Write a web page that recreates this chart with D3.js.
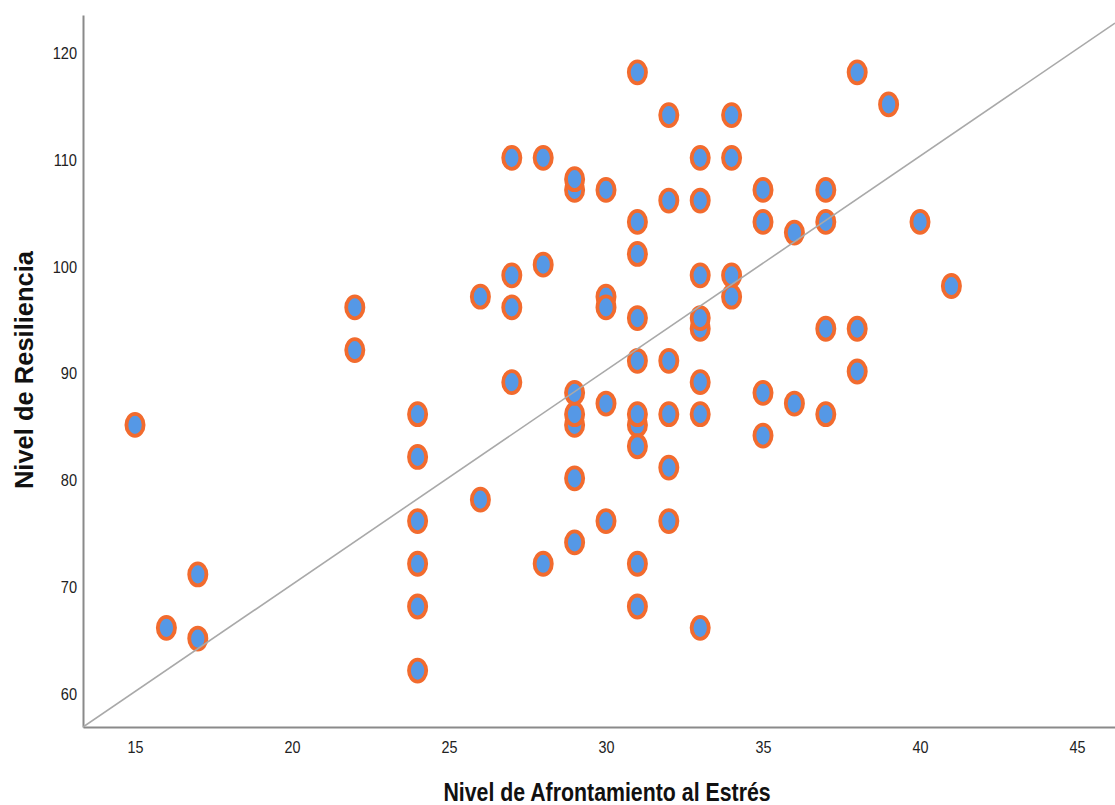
<!DOCTYPE html>
<html lang="es">
<head>
<meta charset="utf-8">
<title>Afrontamiento al estrés y resiliencia</title>
<script src="https://cdn.jsdelivr.net/npm/d3@7/dist/d3.min.js"></script>
<style>
  html, body { margin: 0; padding: 0; background: #ffffff; }
  svg { display: block; font-family: "Liberation Sans", Arial, sans-serif; }
</style>
</head>
<body>
<svg id="chart" width="1115" height="805"></svg>
<script>
// Puntuaciones por participante
const afrontamiento = [
  15, 16, 17, 17, 22, 22,
  24, 24, 24, 24, 24, 24,
  26, 26, 27, 27, 27, 27,
  28, 28, 28,
  29, 29, 29, 29, 29, 29, 29,
  30, 30, 30, 30, 30,
  31, 31, 31, 31, 31, 31, 31, 31, 31, 31,
  32, 32, 32, 32, 32, 32,
  33, 33, 33, 33, 33, 33, 33, 33,
  34, 34, 34, 34,
  35, 35, 35, 35,
  36, 36,
  37, 37, 37, 37,
  38, 38, 38,
  39, 40, 41
];
const resiliencia = [
  85, 66, 71, 65, 96, 92,
  86, 82, 76, 72, 68, 62,
  97, 78, 110, 99, 96, 89,
  110, 100, 72,
  107, 108, 85, 86, 88, 80, 74,
  107, 97, 96, 87, 76,
  118, 104, 101, 95, 91, 85, 86, 83, 72, 68,
  114, 106, 91, 86, 81, 76,
  110, 106, 99, 94, 95, 89, 86, 66,
  114, 110, 99, 97,
  107, 104, 88, 84,
  103, 87,
  107, 104, 94, 86,
  118, 94, 90,
  115, 104, 98
];

// Ejes
const xTicks = [15, 20, 25, 30, 35, 40, 45];
const yTicks = [60, 70, 80, 90, 100, 110, 120];
const xDomain = [13.344, 46.21];
const yDomain = [56.72, 123.37];

// Recta de ajuste
const fitIntercept = 29.96;
const fitSlope = 2.005;

const xTitle = "Nivel de Afrontamiento al Estrés";
const yTitle = "Nivel de Resiliencia";

const points = afrontamiento.map((a, i) => ({ x: a, y: resiliencia[i] }));

const svg = d3.select("#chart");
const plotLeft = 83, plotRight = 1115, plotTop = 15, plotBottom = 727;

const x = d3.scaleLinear().domain(xDomain).range([plotLeft, plotRight]);
const y = d3.scaleLinear().domain(yDomain).range([plotBottom, plotTop]);

const axisColor = "#8a8a8a";
const textColor = "#222222";

// Eje X
const gx = svg.append("g")
  .attr("transform", `translate(0,${plotBottom})`)
  .call(d3.axisBottom(x).tickValues(xTicks).tickSize(0).tickSizeOuter(0).tickPadding(14)
    .tickFormat(d3.format("d")));
gx.select(".domain").attr("stroke", axisColor).attr("stroke-width", 2);
gx.selectAll(".tick text")
  .attr("fill", textColor)
  .attr("font-size", 16.5)
  .attr("transform", "scale(0.87,1)");

// Eje Y
const gy = svg.append("g")
  .attr("transform", `translate(${plotLeft},0)`)
  .call(d3.axisLeft(y).tickValues(yTicks).tickSize(0).tickSizeOuter(0)
    .tickFormat(d3.format("d")));
gy.select(".domain").attr("stroke", axisColor).attr("stroke-width", 2);
gy.selectAll(".tick text")
  .attr("fill", textColor)
  .attr("font-size", 17)
  .attr("x", -6 / 0.86)
  .attr("dy", "0.44em")
  .attr("transform", "scale(0.86,1)");

// Puntos
svg.append("g")
  .selectAll("ellipse")
  .data(points)
  .join("ellipse")
  .attr("cx", d => x(d.x))
  .attr("cy", d => y(d.y))
  .attr("rx", 8.6)
  .attr("ry", 11)
  .attr("fill", "#5598e6")
  .attr("stroke", "#f26b2e")
  .attr("stroke-width", 3.8);

// Recta de ajuste, recortada al área del gráfico
svg.append("clipPath").attr("id", "plot-area")
  .append("rect")
  .attr("x", plotLeft).attr("y", plotTop)
  .attr("width", plotRight - plotLeft).attr("height", plotBottom - plotTop);

svg.append("line")
  .attr("clip-path", "url(#plot-area)")
  .attr("x1", x(xDomain[0]))
  .attr("y1", y(fitIntercept + fitSlope * xDomain[0]))
  .attr("x2", x(xDomain[1]))
  .attr("y2", y(fitIntercept + fitSlope * xDomain[1]))
  .attr("stroke", "#a9a9a9")
  .attr("stroke-width", 1.6);

// Títulos de los ejes
svg.append("text")
  .attr("transform", "translate(607,801) scale(0.82,1)")
  .attr("text-anchor", "middle")
  .attr("font-size", 26)
  .attr("font-weight", "bold")
  .attr("fill", "#111111")
  .text(xTitle);

svg.append("text")
  .attr("transform", "translate(33,370) rotate(-90)")
  .attr("text-anchor", "middle")
  .attr("font-size", 25.5)
  .attr("font-weight", "bold")
  .attr("fill", "#111111")
  .text(yTitle);
</script>
</body>
</html>
